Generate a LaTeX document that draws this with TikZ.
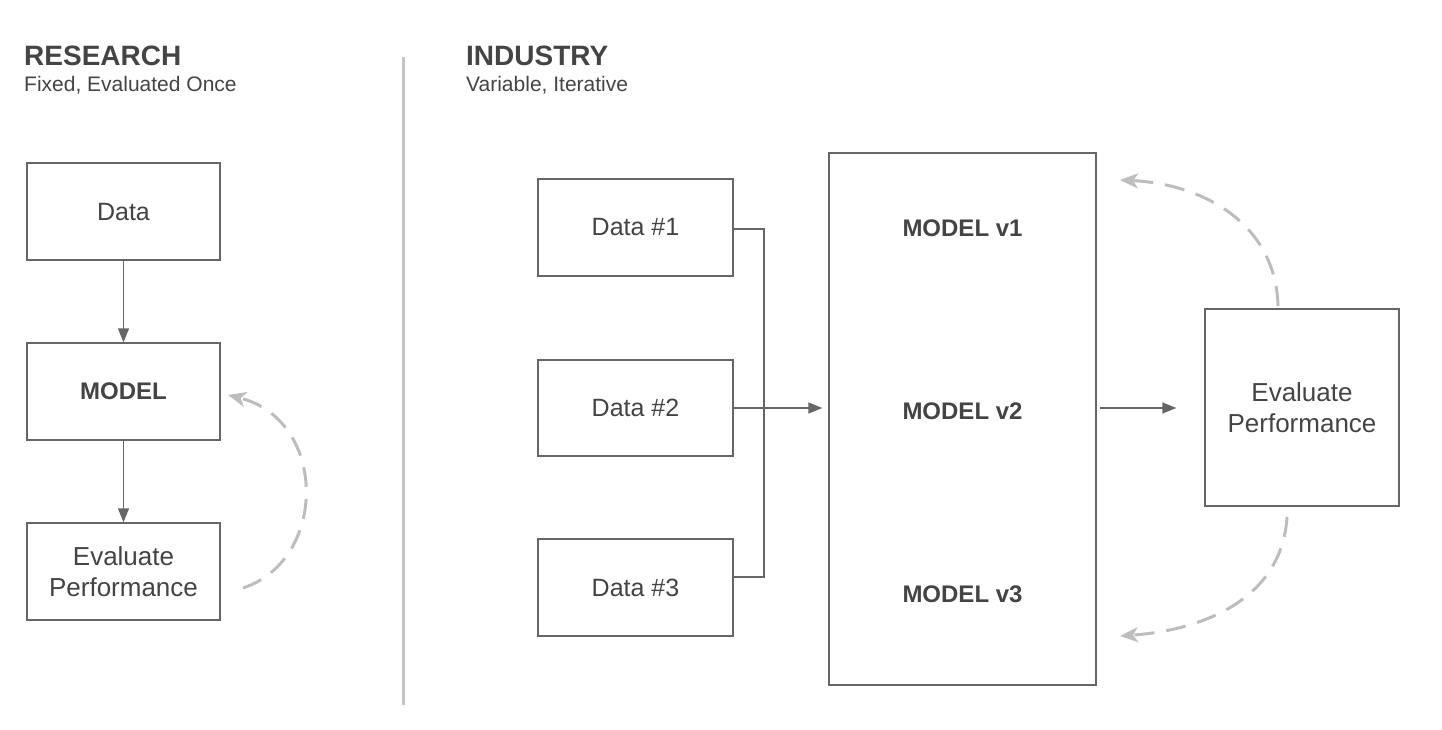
\documentclass[tikz,border=0pt]{standalone}
\usepackage{fontspec}
\setmainfont{Liberation Sans}
\usetikzlibrary{arrows.meta}
\definecolor{txt}{HTML}{444444}
\definecolor{edgec}{HTML}{666666}
\definecolor{dashc}{HTML}{BDBDBD}
\definecolor{sepc}{HTML}{C4C4C4}
\tikzset{
  box/.style={draw=edgec, line width=1.4pt, fill=white, text=txt, align=center,
    font=\fontsize{25}{31}\selectfont, inner sep=0pt},
  evalbox/.style={box, font=\fontsize{26}{31}\selectfont},
  bold label/.style={text=txt, font=\fontsize{24}{29}\selectfont\bfseries},
  head/.style={text=txt, font=\fontsize{28}{32}\selectfont\bfseries, anchor=base west, inner sep=0pt},
  sub/.style={text=txt, font=\fontsize{21}{24}\selectfont, anchor=base west, inner sep=0pt},
  flow/.style={draw=edgec, line width=1.4pt, -{Triangle[length=14pt,width=11pt]}},
  wire/.style={draw=edgec, line width=1.4pt},
  loop/.style={draw=dashc, line width=3pt, dash pattern=on 20pt off 12pt,
    -{Stealth[length=18pt,width=15pt,inset=5pt]}},
}
\begin{document}
\begin{tikzpicture}[x=1pt,y=-1pt]
\useasboundingbox (0,0) rectangle (1442,730);
% separator
\draw[sepc, line width=3pt] (403,57) -- (403,705);
% headers
\node[head] (hr) at (24,66) {RESEARCH};
\node[sub] (sr) at (24,92) {Fixed, Evaluated Once};
\node[head] (hi) at (466,66) {INDUSTRY};
\node[sub] (si) at (466,92) {Variable, Iterative};
% research side
\node[box, minimum width=193pt, minimum height=97pt, text depth=-2pt] (data) at (123.5,211.5) {Data};
\node[box, minimum width=193pt, minimum height=97pt, font=\fontsize{24}{29}\selectfont\bfseries] (model) at (123.5,391.5) {MODEL};
\node[evalbox, minimum width=193pt, minimum height=97pt] (eval) at (123.5,571.5) {Evaluate\\Performance};
\draw[flow] (data) -- (model);
\draw[flow] (model) -- (eval);
\coordinate (ls) at (243,588);
\coordinate (le) at (228,395);
\draw[loop] (ls) .. controls (328,560) and (328,420) .. (le);
% industry side
\node[box, minimum width=195pt, minimum height=97pt] (d1) at (635.5,227.5) {Data \#1};
\node[box, minimum width=195pt, minimum height=96pt] (d2) at (635.5,408) {Data \#2};
\node[box, minimum width=195pt, minimum height=97pt] (d3) at (635.5,587.5) {Data \#3};
\node[draw=edgec, line width=1.4pt, minimum width=267pt, minimum height=532pt, inner sep=0pt] (big) at (962.5,419) {};
\node[bold label] (m1) at (962.5,228) {MODEL v1};
\node[bold label] (m2) at (962.5,411) {MODEL v2};
\node[bold label] (m3) at (962.5,594) {MODEL v3};
\node[evalbox, minimum width=194pt, minimum height=197pt, text depth=-4pt] (ev2) at (1302,407.5) {Evaluate\\Performance};
\coordinate (j1) at (764,229);
\coordinate (j3) at (764,577);
\draw[wire] (d1.east |- j1) -- (j1) -- (j3) -- (d3.east |- j3);
\draw[flow, shorten >=6pt] (d2.east) -- (d2.east -| big.west);
\draw[flow, shorten <=3pt, shorten >=28pt] (big.east |- d2.east) -- (ev2.west |- d2.east);
\coordinate (ts) at (1278,306);
\coordinate (te) at (1120,180);
\coordinate (bs) at (1287,517);
\coordinate (be) at (1120,636);
\draw[loop] (ts) .. controls (1276,225) and (1205,184) .. (te);
\draw[loop] (bs) .. controls (1282,598) and (1205,630) .. (be);
\end{tikzpicture}
\end{document}
